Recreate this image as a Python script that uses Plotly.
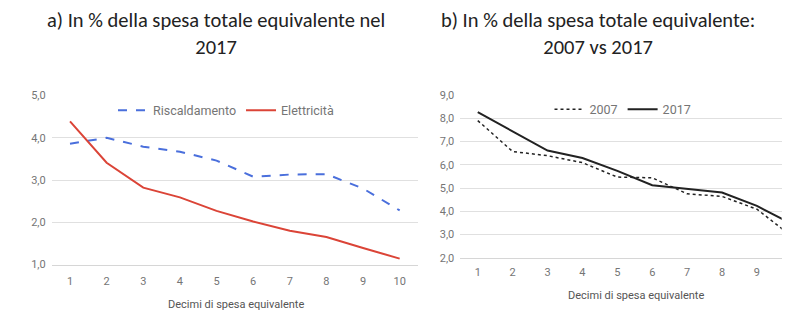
import plotly.graph_objects as go

decili = [1, 2, 3, 4, 5, 6, 7, 8, 9, 10]
riscaldamento = [3.86, 4.00, 3.79, 3.67, 3.46, 3.08, 3.13, 3.14, 2.80, 2.28]
elettricita = [4.39, 3.41, 2.82, 2.59, 2.27, 2.02, 1.80, 1.65, 1.39, 1.14]
spesa_2007 = [7.90, 6.57, 6.39, 6.09, 5.47, 5.44, 4.75, 4.64, 4.09, 2.92]
spesa_2017 = [8.26, 7.42, 6.61, 6.29, 5.74, 5.12, 4.96, 4.81, 4.23, 3.45]

title_a = "a) In % della spesa totale equivalente nel<br>2017"
title_b = "b) In % della spesa totale equivalente:<br>2007 vs 2017"
xlab = "Decimi di spesa equivalente"

W, H = 800, 325
def px(x): return x / W
def py(y): return 1 - y / H

grey = "#757575"
grid = "#e0e0e0"
tickfont = dict(family="Roboto", size=11, color=grey)

fig = go.Figure()
fig.add_trace(go.Scatter(x=decili, y=riscaldamento, mode="lines", name="Riscaldamento",
                         line=dict(color="#4a6fdc", width=2, dash="dash"),
                         xaxis="x", yaxis="y", legend="legend"))
fig.add_trace(go.Scatter(x=decili, y=elettricita, mode="lines", name="Elettricità",
                         line=dict(color="#db4437", width=2),
                         xaxis="x", yaxis="y", legend="legend"))
fig.add_trace(go.Scatter(x=decili, y=spesa_2007, mode="lines", name="2007",
                         line=dict(color="#222222", width=1.5, dash="dot"),
                         xaxis="x2", yaxis="y2", legend="legend2"))
fig.add_trace(go.Scatter(x=decili, y=spesa_2017, mode="lines", name="2017",
                         line=dict(color="#222222", width=2),
                         xaxis="x2", yaxis="y2", legend="legend2"))

common_x = dict(showgrid=False, zeroline=False, showline=True, linecolor="#d6d6d6",
                tickfont=tickfont, tickmode="array", ticks="", ticklabelstandoff=6)
common_y = dict(showgrid=True, gridcolor=grid, zeroline=False, showline=False,
                tickfont=tickfont, tickformat=".1f", dtick=1, ticks="", ticklabelstandoff=5)

fig.update_layout(
    width=W, height=H,
    margin=dict(l=0, r=0, t=0, b=0),
    paper_bgcolor="white", plot_bgcolor="white",
    separators=",.",
    font=dict(family="Roboto", color=grey),
    xaxis=dict(domain=[px(51.7), px(418)], range=[0.5, 10.5], tickvals=decili, anchor="y", **common_x),
    yaxis=dict(domain=[py(269.3), py(93.3)], range=[1, 5], anchor="x", **common_y),
    xaxis2=dict(domain=[px(460.3), px(781.7)], range=[0.5, 9.71], tickvals=decili[:9], anchor="y2",
                **{**common_x, "ticklabelstandoff": 4}),
    yaxis2=dict(domain=[py(262.3), py(92.7)], range=[2, 9], anchor="x2", **common_y),
    legend=dict(orientation="h", x=px(226), y=py(109), xanchor="center", yanchor="middle",
                font=dict(family="Roboto", size=12.5, color=grey), bgcolor="rgba(0,0,0,0)",
                itemwidth=30, tracegroupgap=0),
    legend2=dict(orientation="h", x=px(623), y=py(108), xanchor="center", yanchor="middle",
                 font=dict(family="Roboto", size=12.5, color=grey), bgcolor="rgba(0,0,0,0)",
                 itemwidth=30, tracegroupgap=0),
    showlegend=True,
    annotations=[
        dict(text=title_a, x=px(216), y=py(28.5), xref="paper", yref="paper", showarrow=False,
             font=dict(family="Carlito, Open Sans", size=20.5, color="#222222"), align="center",
             xanchor="center", yanchor="middle"),
        dict(text=title_b, x=px(598), y=py(28.5), xref="paper", yref="paper", showarrow=False,
             font=dict(family="Carlito, Open Sans", size=20.5, color="#222222"), align="center",
             xanchor="center", yanchor="middle"),
        dict(text=xlab, x=px(236), y=py(311), xref="paper", yref="paper", showarrow=False,
             font=dict(family="Roboto", size=11, color="#555555"), xanchor="center", yanchor="middle"),
        dict(text=xlab, x=px(636), y=py(302), xref="paper", yref="paper", showarrow=False,
             font=dict(family="Roboto", size=11, color="#555555"), xanchor="center", yanchor="middle"),
    ],
)

fig.write_html("out.html")
